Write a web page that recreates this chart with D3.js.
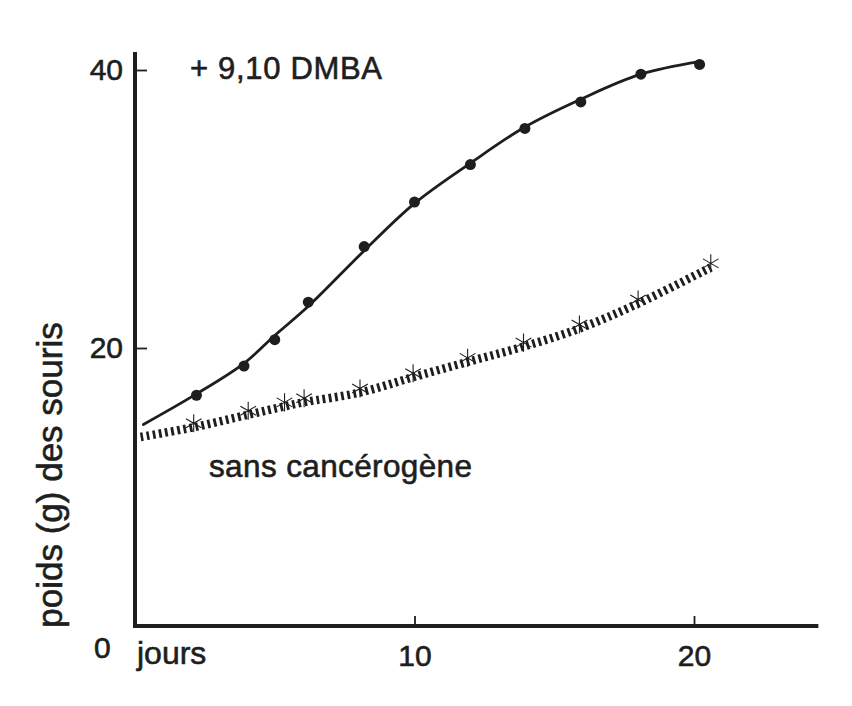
<!DOCTYPE html>
<html>
<head>
<meta charset="utf-8">
<script src="https://cdn.jsdelivr.net/npm/d3@7"></script>
<style>
  html, body { margin: 0; padding: 0; background: #ffffff; }
  svg { display: block; }
  text { font-family: "Liberation Sans", Arial, Helvetica, sans-serif; fill: #1e1e1e; stroke: #1e1e1e; stroke-width: 0.6px; }
</style>
</head>
<body>
<svg id="chart" width="852" height="706"></svg>
<script>
// ---- data ----
// +9,10 DMBA : measured points (day, weight g)
const dmbaJours  = [2.2, 3.9, 5.0, 6.2, 8.2, 10.0, 12.0, 13.95, 15.95, 18.1, 20.2];
const dmbaPoids  = [16.6, 18.7, 20.6, 23.3, 27.3, 30.5, 33.2, 35.8, 37.7, 39.7, 40.4];
// +9,10 DMBA : drawn (smoothed) curve
const dmbaCourbeJours = [0.3, 2.2, 3.9, 5.0, 6.2, 8.2, 10.0, 12.0, 13.95, 15.95, 18.1, 20.2];
const dmbaCourbePoids = [14.5, 16.7, 18.9, 20.9, 23.0, 27.0, 30.4, 33.3, 35.9, 37.9, 39.7, 40.6];
// sans cancérogène
const temoinJours = [0.2, 2.1, 4.05, 5.35, 6.05, 8.05, 9.95, 11.9, 13.9, 15.9, 18.0, 20.6];
const temoinPoids = [13.6, 14.3, 15.2, 15.8, 16.1, 16.8, 17.9, 19.0, 20.1, 21.4, 23.2, 25.8];
const temoinMarques = [false, true, true, true, true, true, true, true, true, true, true, true];
// axes
const yTicks = [20, 40];
const xTicks = [10, 20];
const yZeroLabel = "0";
const xLabel = "jours";
const yLabel = "poids (g) des souris";
const labelDMBA = "+ 9,10 DMBA";
const labelTemoin = "sans cancérogène";

// ---- drawing ----
const svg = d3.select("#chart");
const ink = "#1e1e1e";

const x = d3.scaleLinear().domain([0, 20]).range([135, 694]);
const y = d3.scaleLinear().domain([0, 40]).range([626, 70]);

// axis lines
svg.append("line")
  .attr("x1", x(0)).attr("x2", x(0))
  .attr("y1", y(0) + 2).attr("y2", y(41.3))
  .attr("stroke", ink).attr("stroke-width", 4);
svg.append("line")
  .attr("x1", x(0) - 2).attr("x2", x(24.45))
  .attr("y1", y(0)).attr("y2", y(0))
  .attr("stroke", ink).attr("stroke-width", 3.8);

// y axis ticks (inward)
const yAxis = d3.axisLeft(y).tickValues(yTicks).tickSize(-12).tickPadding(12)
  .tickFormat(d3.format("d"));
const gy = svg.append("g").attr("transform", `translate(${x(0)},0)`).call(yAxis);
gy.select(".domain").remove();
gy.selectAll(".tick line").attr("stroke", ink).attr("stroke-width", 1.8);
gy.selectAll(".tick text").attr("font-size", 30).attr("fill", ink)
  .style("font-family", '"Liberation Sans", Arial, sans-serif');

// x axis ticks (upward)
const xAxis = d3.axisBottom(x).tickValues(xTicks).tickSize(-10).tickPadding(19)
  .tickFormat(d3.format("d"));
const gx = svg.append("g").attr("transform", `translate(0,${y(0)})`).call(xAxis);
gx.select(".domain").remove();
gx.selectAll(".tick line").attr("stroke", ink).attr("stroke-width", 1.8);
gx.selectAll(".tick text").attr("font-size", 30).attr("fill", ink)
  .style("font-family", '"Liberation Sans", Arial, sans-serif');

// "0" at the origin
svg.append("text").attr("x", 94).attr("y", 658)
  .attr("font-size", 30).text(yZeroLabel);

// "jours"
svg.append("text").attr("x", 137).attr("y", 664)
  .attr("font-size", 32).text(xLabel);

// y title
svg.append("text")
  .attr("transform", `translate(62,${475}) rotate(-90)`)
  .attr("text-anchor", "middle")
  .attr("font-size", 35)
  .text(yLabel);

// series labels
svg.append("text").attr("x", 190).attr("y", 79)
  .attr("font-size", 31).attr("textLength", 192).attr("lengthAdjust", "spacing")
  .text(labelDMBA);
svg.append("text").attr("x", 209).attr("y", 477)
  .attr("font-size", 31.5).attr("textLength", 263).attr("lengthAdjust", "spacing")
  .text(labelTemoin);

// DMBA curve
const courbe = dmbaCourbeJours.map((d, i) => [d, dmbaCourbePoids[i]]);
const lineGen = d3.line().x(d => x(d[0])).y(d => y(d[1])).curve(d3.curveCatmullRom.alpha(0.5));
svg.append("path").datum(courbe)
  .attr("d", lineGen).attr("fill", "none")
  .attr("stroke", ink).attr("stroke-width", 2.8).attr("stroke-linecap", "round");

// DMBA dots
const pts = dmbaJours.map((d, i) => [d, dmbaPoids[i]]);
svg.append("g").selectAll("circle").data(pts).join("circle")
  .attr("cx", d => x(d[0])).attr("cy", d => y(d[1])).attr("r", 5.5)
  .attr("fill", ink);

// control dashed line
const temoin = temoinJours.map((d, i) => [d, temoinPoids[i], temoinMarques[i]]);
svg.append("path").datum(temoin)
  .attr("d", lineGen).attr("fill", "none")
  .attr("stroke", ink).attr("stroke-width", 8.5)
  .attr("stroke-dasharray", "2.8,3.4");

// asterisks
const star = d3.symbol().type(d3.symbolAsterisk).size(230);
svg.append("g").selectAll("path").data(temoin.filter(d => d[2])).join("path")
  .attr("transform", d => `translate(${x(d[0])},${y(d[1]) - 4})`)
  .attr("d", star).attr("fill", "none")
  .attr("stroke", ink).attr("stroke-width", 1.1);
</script>
</body>
</html>
